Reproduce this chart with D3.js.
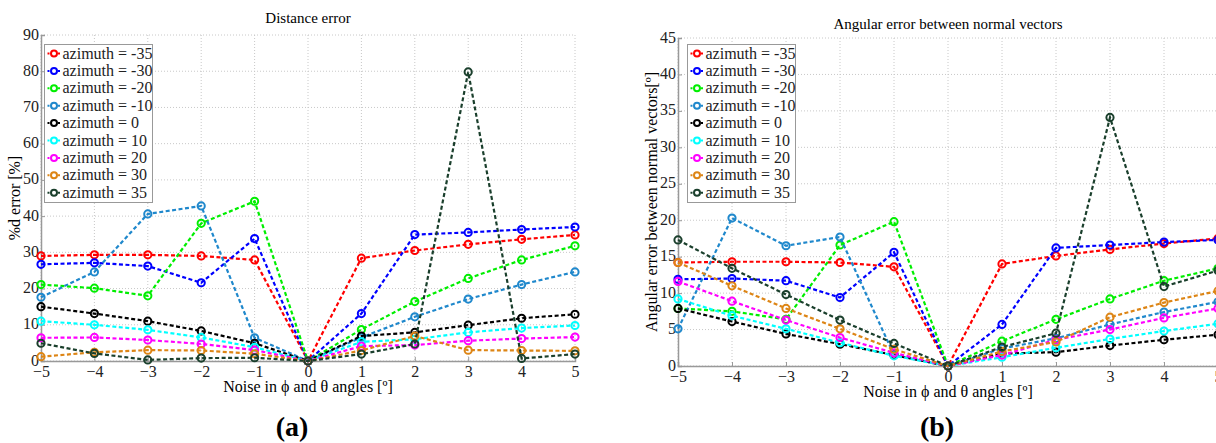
<!DOCTYPE html>
<html>
<head>
<meta charset="utf-8">
<script src="https://cdn.jsdelivr.net/npm/d3@7"></script>
<style>
  body { margin: 0; background: #fff; }
</style>
</head>
<body>
<div id="chart"></div>
<script>

// data

const NOISE = [-5, -4, -3, -2, -1, 0, 1, 2, 3, 4, 5];

const AZIMUTHS = ["-35", "-30", "-20", "-10", "0", "10", "20", "30", "35"];
const COLORS = ["#ff0000", "#0000ff", "#00ee00", "#1f88cc", "#000000",
                "#00ffff", "#ff00ff", "#dd8515", "#1a3f2c"];

// distance error [%], one row per azimuth
const DIST_M35 = [29.0, 29.3, 29.3, 29.0, 27.9, 0, 28.4, 30.5, 32.2, 33.6, 34.8];
const DIST_M30 = [26.7, 27.1, 26.2, 21.6, 33.8, 0, 13.1, 34.9, 35.5, 36.3, 37.0];
const DIST_M20 = [21.1, 20.1, 18.0, 38.0, 44.1, 0, 8.7, 16.4, 22.8, 27.9, 31.8];
const DIST_M10 = [17.6, 24.6, 40.6, 42.8, 6.4, 0, 6.5, 12.2, 17.1, 21.1, 24.6];
const DIST_0   = [15.0, 13.1, 11.0, 8.3, 4.9, 0, 6.9, 7.9, 9.9, 11.8, 12.9];
const DIST_10  = [11.0, 10.0, 8.6, 6.5, 3.8, 0, 5.3, 6.0, 7.9, 9.1, 9.8];
const DIST_20  = [6.4, 6.5, 5.8, 4.7, 3.0, 0, 4.1, 4.4, 5.6, 6.2, 6.6];
const DIST_30  = [1.2, 2.4, 3.0, 2.9, 2.0, 0, 2.9, 6.9, 3.0, 2.9, 2.8];
const DIST_35  = [4.9, 2.1, 0.3, 0.8, 0.9, 0, 1.9, 4.7, 79.8, 0.7, 1.9];

// angular error [deg], one row per azimuth
const ANG_M35 = [14.2, 14.3, 14.3, 14.2, 13.6, 0, 14.0, 15.1, 16.0, 16.8, 17.5];
const ANG_M30 = [11.9, 12.0, 11.7, 9.4, 15.6, 0, 5.7, 16.2, 16.6, 17.0, 17.3];
const ANG_M20 = [7.9, 7.5, 6.4, 16.6, 19.8, 0, 3.4, 6.4, 9.2, 11.7, 13.4];
const ANG_M10 = [5.1, 20.3, 16.5, 17.7, 1.5, 0, 2.4, 3.8, 5.7, 7.4, 8.8];
const ANG_0   = [7.9, 6.1, 4.4, 3.0, 1.5, 0, 1.7, 1.9, 2.8, 3.6, 4.3];
const ANG_10  = [9.2, 6.9, 5.1, 3.2, 1.4, 0, 1.2, 2.5, 3.7, 4.8, 5.8];
const ANG_20  = [11.6, 8.9, 6.3, 3.9, 1.8, 0, 1.5, 3.6, 5.0, 6.6, 7.9];
const ANG_30  = [14.2, 11.0, 7.9, 5.1, 2.3, 0, 2.0, 3.3, 6.7, 8.7, 10.3];
const ANG_35  = [17.3, 13.4, 9.8, 6.3, 3.1, 0, 2.6, 4.5, 34.1, 10.9, 13.1];

const X_TICKS = [-5, -4, -3, -2, -1, 0, 1, 2, 3, 4, 5];
const DIST_TICKS = [0, 10, 20, 30, 40, 50, 60, 70, 80, 90];
const ANG_TICKS = [0, 5, 10, 15, 20, 25, 30, 35, 40, 45];

const SERIF = "'Liberation Serif', 'DejaVu Serif', serif";


const FRAME = d3.select("#chart")
                .append("svg")
                  .attr("width", 1216)
                  .attr("height", 443);


// one panel of the figure
function build_panel(opts) {

  const X_SCALE = d3.scaleLinear()
                    .domain([-5, 5])
                    .range([opts.left, opts.right]);

  const Y_SCALE = d3.scaleLinear()
                    .domain([0, opts.ymax])
                    .range([opts.bottom, opts.top]);

  const G = FRAME.append("g");

  // dotted grid
  G.selectAll(".vgrid")
    .data(X_TICKS)
    .enter()
    .append("line")
      .attr("x1", (d) => X_SCALE(d))
      .attr("x2", (d) => X_SCALE(d))
      .attr("y1", opts.top)
      .attr("y2", opts.bottom)
      .attr("stroke", "#c8c8c8")
      .attr("stroke-dasharray", "1,2");

  G.selectAll(".hgrid")
    .data(opts.yticks)
    .enter()
    .append("line")
      .attr("x1", opts.left)
      .attr("x2", opts.right)
      .attr("y1", (d) => Y_SCALE(d))
      .attr("y2", (d) => Y_SCALE(d))
      .attr("stroke", "#c8c8c8")
      .attr("stroke-dasharray", "1,2");

  // axes
  const XAXIS = G.append("g")
    .attr("transform", "translate(0," + opts.bottom + ")")
    .call(d3.axisBottom(X_SCALE).tickValues(X_TICKS).tickSize(-4).tickPadding(5));

  const YAXIS = G.append("g")
    .attr("transform", "translate(" + opts.left + ",0)")
    .call(d3.axisLeft(Y_SCALE).tickValues(opts.yticks).tickSize(-4).tickPadding(2));

  [XAXIS, YAXIS].forEach((ax) => {
    ax.select(".domain").attr("stroke", "#999").attr("stroke-width", 1.5);
    ax.selectAll(".tick line").attr("stroke", "#999");
    ax.selectAll("text")
      .attr("font-size", "16px")
      .attr("fill", "#222");
  });
  // y tick labels sit a bit above the tick, as in the picture
  YAXIS.selectAll("text").attr("dy", "0.25em");

  // series
  const LINE = d3.line()
                 .x((d, i) => X_SCALE(NOISE[i]))
                 .y((d) => Y_SCALE(d));

  opts.series.forEach((vals, k) => {
    G.append("path")
      .datum(vals)
      .attr("d", LINE)
      .attr("fill", "none")
      .attr("stroke", COLORS[k])
      .attr("stroke-width", 2.2)
      .attr("stroke-dasharray", "4,2.5");

    G.selectAll(".pt" + k)
      .data(vals)
      .enter()
      .append("circle")
        .attr("cx", (d, i) => X_SCALE(NOISE[i]))
        .attr("cy", (d) => Y_SCALE(d))
        .attr("r", 3.6)
        .attr("fill", "none")
        .attr("stroke", COLORS[k])
        .attr("stroke-width", 2);
  });

  // title and axis labels
  G.append("text")
    .attr("x", (opts.left + opts.right) / 2)
    .attr("y", opts.titleY)
    .attr("text-anchor", "middle")
    .attr("font-size", "15px")
    .text(opts.title);

  G.append("text")
    .attr("x", X_SCALE(0))
    .attr("y", opts.bottom + 31)
    .attr("text-anchor", "middle")
    .attr("font-size", "16px")
    .text("Noise in \u03d5 and \u03b8 angles [\u00ba]");

  G.append("text")
    .attr("transform", "translate(" + opts.ylabelX + "," + ((opts.top + opts.bottom) / 2) + ") rotate(-90)")
    .attr("text-anchor", "middle")
    .attr("font-size", "16px")
    .text(opts.ylabel);

  // legend
  const LEG = G.append("g")
    .attr("transform", "translate(" + opts.legX + "," + opts.legY + ")");

  LEG.append("rect")
    .attr("width", opts.legW)
    .attr("height", 158)
    .attr("fill", "white")
    .attr("stroke", "#999");

  AZIMUTHS.forEach((az, k) => {
    const yy = 9 + k * 17.4;
    LEG.append("line")
      .attr("x1", 3).attr("x2", 16)
      .attr("y1", yy).attr("y2", yy)
      .attr("stroke", COLORS[k])
      .attr("stroke-width", 2)
      .attr("stroke-dasharray", "2,1.5");
    LEG.append("circle")
      .attr("cx", 9.5).attr("cy", yy).attr("r", 3)
      .attr("fill", "white")
      .attr("stroke", COLORS[k])
      .attr("stroke-width", 2);
    LEG.append("text")
      .attr("x", 18)
      .attr("y", yy + 5)
      .attr("font-size", "16px")
      .attr("fill", "#222")
      .text("azimuth = " + az);
  });

  // sub figure letter
  FRAME.append("text")
    .attr("x", opts.letterX)
    .attr("y", 436)
    .attr("text-anchor", "middle")
    .attr("font-size", "28px")
    .attr("font-weight", "bold")
    .text(opts.letter);
}


build_panel({
  left: 41, right: 575, top: 35, bottom: 361,
  ymax: 90, yticks: DIST_TICKS,
  series: [DIST_M35, DIST_M30, DIST_M20, DIST_M10, DIST_0, DIST_10, DIST_20, DIST_30, DIST_35],
  title: "Distance error", titleY: 23,
  ylabel: "%d error [%]", ylabelX: 20,
  legX: 44.5, legY: 44.5, legW: 108,
  letter: "(a)", letterX: 292
});

build_panel({
  left: 678, right: 1218, top: 38, bottom: 366,
  ymax: 45, yticks: ANG_TICKS,
  series: [ANG_M35, ANG_M30, ANG_M20, ANG_M10, ANG_0, ANG_10, ANG_20, ANG_30, ANG_35],
  title: "Angular error between normal vectors", titleY: 29,
  ylabel: "Angular error between normal vectors[\u00ba]", ylabelX: 657,
  legX: 687.5, legY: 44.5, legW: 108,
  letter: "(b)", letterX: 937
});

// serif everywhere, set as style so it wins over the axis defaults
FRAME.selectAll("text").style("font-family", SERIF);

</script>
</body>
</html>
